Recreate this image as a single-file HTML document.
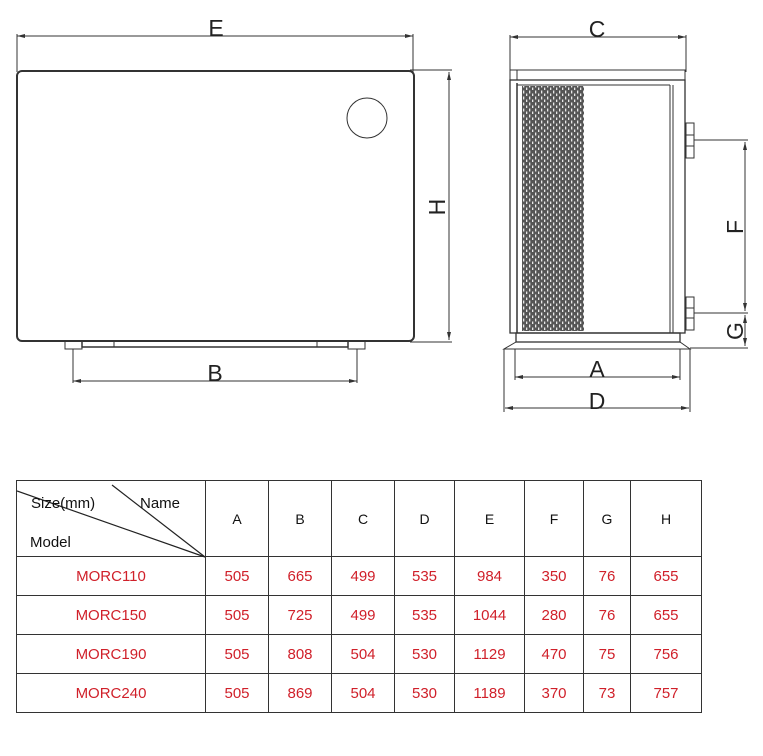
<!DOCTYPE html>
<html><head><meta charset="utf-8"><style>
body{margin:0;background:#fff;width:763px;height:756px;overflow:hidden;position:relative;font-family:"Liberation Sans",sans-serif}
svg{position:absolute;left:0;top:0}
table{position:absolute;left:16px;top:480px;border-collapse:collapse;font-family:"Liberation Sans",sans-serif;font-size:15px}
td{border:1.5px solid #333;text-align:center;padding:0;color:#d0202a}
tr.h td{color:#111;height:75px;font-size:14px}
tr.r td{height:38px}
</style></head><body>
<svg width="763" height="470" viewBox="0 0 763 470">
<defs>
<pattern id="g" width="6" height="6" patternUnits="userSpaceOnUse">
<rect width="6" height="6" fill="#555"/>
<rect x="1" y="0.5" width="1.3" height="3" fill="#e8e8e8"/>
<rect x="4" y="3.5" width="1.3" height="2.5" fill="#e8e8e8"/>
</pattern>
<marker id="a" markerWidth="8" markerHeight="6" refX="8" refY="3" orient="auto-start-reverse" markerUnits="userSpaceOnUse"><path d="M0,1 L8,3 L0,5z" fill="#333"/></marker>
</defs>
<g stroke="#333" fill="none" stroke-width="1">
<line x1="17" y1="36" x2="413" y2="36" marker-start="url(#a)" marker-end="url(#a)"/>
<line x1="17" y1="34" x2="17" y2="72"/><line x1="413" y1="34" x2="413" y2="72"/>
<rect x="17" y="71" width="397" height="270" rx="5" stroke-width="2"/>
<circle cx="367" cy="118" r="20"/>
<rect x="65" y="341" width="17" height="8"/><rect x="348" y="341" width="17" height="8"/>
<rect x="82" y="341" width="266" height="6" stroke-width="1.5"/>
<line x1="114" y1="341" x2="114" y2="347"/><line x1="317" y1="341" x2="317" y2="347"/>
<line x1="73" y1="349" x2="73" y2="383"/><line x1="357" y1="349" x2="357" y2="383"/>
<line x1="73" y1="381" x2="357" y2="381" marker-start="url(#a)" marker-end="url(#a)"/>
<line x1="410" y1="70" x2="452" y2="70"/><line x1="410" y1="342" x2="452" y2="342"/>
<line x1="449" y1="72" x2="449" y2="340" marker-start="url(#a)" marker-end="url(#a)"/>
<line x1="510" y1="37" x2="686" y2="37" marker-start="url(#a)" marker-end="url(#a)"/>
<line x1="510" y1="35" x2="510" y2="72"/><line x1="686" y1="35" x2="686" y2="72"/>
<rect x="510" y="70" width="175" height="10"/>
<line x1="517" y1="70" x2="517" y2="80"/>
<rect x="510" y="80" width="175" height="253" stroke-width="1.3"/>
<line x1="517" y1="83" x2="517" y2="333" stroke-width="1.5"/>
<line x1="517" y1="85" x2="670" y2="85"/>
<line x1="670" y1="85" x2="670" y2="333"/><line x1="673" y1="85" x2="673" y2="333"/>
<rect x="522" y="86" width="62" height="245" fill="url(#g)" stroke="none"/>
<rect x="686" y="123" width="8" height="35"/><line x1="686" y1="135" x2="694" y2="135"/><line x1="686" y1="146" x2="694" y2="146"/>
<rect x="686" y="297" width="8" height="33"/><line x1="686" y1="308" x2="694" y2="308"/><line x1="686" y1="318" x2="694" y2="318"/>
<rect x="516" y="333" width="164" height="9" stroke-width="1.3"/>
<path d="M516,342 L504,349 L690,349 L680,342"/>
<line x1="504" y1="349" x2="504" y2="412"/><line x1="690" y1="349" x2="690" y2="412"/>
<line x1="515" y1="349" x2="515" y2="380"/><line x1="680" y1="349" x2="680" y2="380"/>
<line x1="515" y1="377" x2="680" y2="377" marker-start="url(#a)" marker-end="url(#a)"/>
<line x1="505" y1="408" x2="689" y2="408" marker-start="url(#a)" marker-end="url(#a)"/>
<line x1="694" y1="140" x2="748" y2="140"/><line x1="694" y1="313" x2="748" y2="313"/><line x1="690" y1="348" x2="748" y2="348"/>
<line x1="745" y1="142" x2="745" y2="311" marker-start="url(#a)" marker-end="url(#a)"/>
<line x1="745" y1="315" x2="745" y2="346" marker-start="url(#a)" marker-end="url(#a)"/>
</g>
<g font-family="Liberation Sans, sans-serif" font-size="23" fill="#222" text-anchor="middle">
<text x="216" y="36">E</text>
<text x="215" y="381">B</text>
<text x="597" y="37">C</text>
<text x="597" y="377">A</text>
<text x="597" y="409">D</text>
<text transform="translate(445,207) rotate(-90)">H</text>
<text transform="translate(743,227) rotate(-90)">F</text>
<text transform="translate(743,331) rotate(-90)">G</text>
</g>
</svg>
<table>
<colgroup><col style="width:189px"><col style="width:63px"><col style="width:63px"><col style="width:63px"><col style="width:60px"><col style="width:70px"><col style="width:59px"><col style="width:47px"><col style="width:71px"></colgroup>
<tr class="h"><td style="position:relative;text-align:left">
<svg width="189" height="77" style="position:absolute;left:0;top:0"><line x1="0" y1="10" x2="188" y2="76" stroke="#222" stroke-width="1.2"/><line x1="95" y1="4" x2="188" y2="76" stroke="#222" stroke-width="1.2"/></svg>
<span style="position:absolute;left:14px;top:14px;font-size:15px">Size(mm)</span>
<span style="position:absolute;left:123px;top:14px;font-size:15px">Name</span>
<span style="position:absolute;left:13px;top:53px;font-size:15px">Model</span></td>
<td>A</td><td>B</td><td>C</td><td>D</td><td>E</td><td>F</td><td>G</td><td>H</td></tr>
<tr class="r"><td>MORC110</td><td>505</td><td>665</td><td>499</td><td>535</td><td>984</td><td>350</td><td>76</td><td>655</td></tr>
<tr class="r"><td>MORC150</td><td>505</td><td>725</td><td>499</td><td>535</td><td>1044</td><td>280</td><td>76</td><td>655</td></tr>
<tr class="r"><td>MORC190</td><td>505</td><td>808</td><td>504</td><td>530</td><td>1129</td><td>470</td><td>75</td><td>756</td></tr>
<tr class="r"><td>MORC240</td><td>505</td><td>869</td><td>504</td><td>530</td><td>1189</td><td>370</td><td>73</td><td>757</td></tr>
</table>
</body></html>
